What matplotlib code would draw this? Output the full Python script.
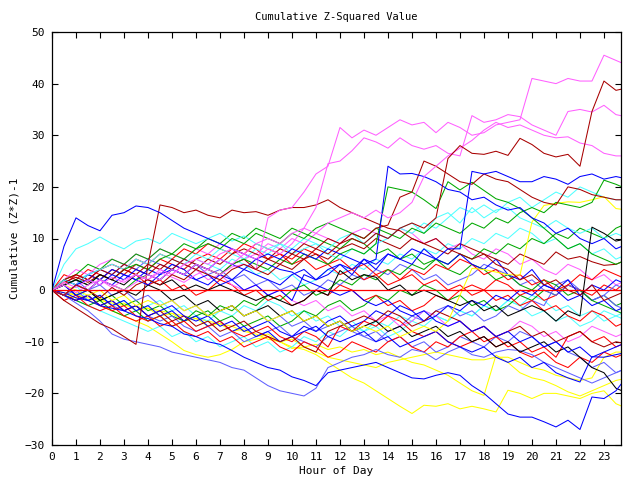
import numpy as np
import matplotlib
matplotlib.use("Agg")
import matplotlib.pyplot as plt

# half-hour samples, 0 .. 24 h
hours = np.arange(49) * 0.5

# magenta
ma = [0, 1.5, 0.5, 2, 1, 2.5, 1.5, 3, 2,
      3.5, 2.5, 1.5, 3, 4, 3, 4.5, 5, 4,
      14, 15.5, 16, 19, 22.5, 24, 31.5, 29.5, 31,
      30, 31.5, 33, 32, 32.5, 30.5, 32.5, 31.5, 30,
      30.5, 32, 32.5, 33, 41, 40.5, 40, 41, 40.5, 40.5, 45.5, 44.5, 43.5]
mb = [0, -1, 1, 0, 2, 1, 0, 1.5, 3,
      2, 4, 3, 5, 4, 6, 5, 7, 6,
      8, 7, 9, 12, 16, 24.5, 25, 27, 29.5,
      28.7, 27.5, 29.5, 28, 27.3, 28, 26.5, 26, 33.8,
      32.5, 33, 34, 33.6, 32, 31, 30, 34.6, 35, 34.5, 35.8, 34, 33.5]
mc = [0, 1, -0.5, 1, 2, 0.5, 2, 3, 2,
      4, 3, 5, 6, 5, 7, 8, 7, 9,
      10, 9, 11, 12, 11, 13, 14, 15, 14,
      15.5, 14, 15, 17, 22, 24, 26, 27.5, 29,
      31, 32.5, 31.5, 32, 31, 30, 29.5, 29.7, 28.5, 28, 26.5, 26, 26]
md = [0, 2, 4, 3, 5, 6, 5, 7, 6,
      8, 7, 6, 8, 7, 9, 8, 6, 7,
      9, 8, 10, 9, 11, 10, 9, 11, 12,
      11, 10, 12, 11, 9, 10, 8, 9, 7,
      6, 8, 7, 5, 6, 4, 3, 5, 4, 2, 3, 1, 2]
me = [0, 1, 3, 2, 4, 5, 4, 6, 5,
      4, 3, 5, 4, 2, 3, 1, 0, 1,
      -1, 0, -2, -3, -2, -4, -3, -5, -4,
      -6, -5, -7, -6, -4, -5, -7, -6, -8,
      -7, -9, -8, -6, -7, -9, -8, -10, -9, -7, -8, -9, -8]

# dark red
dra = [0, -1, 1, 0, -1.5, 0.5, -1, 1, 2,
       1, 3, 2, 4, 3, 2, 4, 5, 4,
       6, 5, 7, 6, 8, 7, 9, 10, 9,
       11, 10, 12, 13, 12, 14, 25.5, 28, 26.5,
       26.3, 26.9, 26.1, 29.4, 28.2, 26.5, 25.8, 26.3, 24, 34.6, 40.5, 38.7, 39.2]
drb = [0, 1.5, 2.5, 1.5, 3, 2, 4, 3, 5,
       4, 6, 5, 4, 6, 5, 7, 8, 7,
       6, 8, 7, 9, 8, 10, 9, 11, 10,
       12, 12.6, 18, 19, 25, 24, 22.5, 21, 20.5,
       22.5, 21.5, 21, 19.5, 18, 17, 16.5, 20, 19.5, 18.5, 18, 17.5, 17.5]
drc = [0, 2, 3, 2, 4, 3, 5, 4, 3,
       5, 4, 6, 5, 4, 3, 5, 6, 4,
       3, 5, 4, 6, 7, 6, 8, 9, 8,
       10, 9, 8, 10, 9, 8, 7, 9, 8,
       7, 6, 5, 7, 6, 5, 7.4, 6, 6.5, 5.5, 4.8, 5, 6]
drd = [0, -2, -3.5, -5, -6.5, -7.5, -9, -10.5, 5,
       16.5, 16, 15, 15.5, 14.5, 14, 15.5, 15, 15.2,
       14.5, 15.5, 16, 16, 16.5, 17.5, 16, 15, 14,
       13, 12, 11.5, 10, 9, 10, 8, 7, 6,
       7, 5, 4, 2, 3, 1, 2, 0, -1, 1, -2, -1, 0]
dre = [0, -1, -2, -1, -3, -2, -4, -3, -5,
       -4, -6, -5, -7, -6, -8, -7, -6, -8,
       -9, -10, -9, -11, -12, -8, -7, -6, -5,
       -6, -4, -5, -7, -6, -4, -5, -6, -8,
       -7, -9, -8, -7, -9, -8, -10, -9, -8, -10, -11, -10, -10.5]

# blue
bh = [0, 8.5, 14, 12.5, 11.5, 14.5, 15, 16.3, 16,
      15, 13.5, 12, 11, 10, 9, 8, 7, 6,
      5, 4, 3.5, 2, 1, 0, -1, 0, -2,
      -3, -2, -4, -5, -4, -6, -7, -6, -8,
      -7, -9, -8, -10, -9, -11, -10, -12, -11, -13, -12, -11, -10]
bt1 = [0, 1, -1, 0, 2, 1, 3, 2, 1,
       3, 4, 3, 5, 4, 6, 5, 4, 6,
       7, 6, 8, 7, 6, 8, 7, 6, 5,
       6, 24, 22.5, 22.6, 22, 21, 19.5, 19, 17.5,
       18, 16.5, 15.5, 16, 14, 13, 11, 12, 10, 9, 10, 8, 9]
bt2 = [0, -1, 1, 2, 1, 3, 2, 4, 3,
       2, 4, 3, 2, 1, 3, 2, 4, 3,
       2, 1, 3, 4, 2, 3, 5, 4, 6,
       5, 7, 6, 8, 7, 6, 8, 8, 23,
       22.5, 23, 22, 21, 21, 22, 21.5, 20.5, 22, 22.5, 21.5, 22, 21.5]
bb = [0, -0.5, -1.5, -2, -3, -3.5, -4, -5, -5.5,
      -6.5, -7, -8.5, -9, -10, -10.5, -11.7, -13, -14,
      -15, -15.5, -16.8, -17.5, -18.5, -16, -15.5, -15, -14.5,
      -14, -15, -16, -17, -17.2, -16.5, -16, -16.5, -18.5,
      -20, -22, -24, -24.6, -24.6, -25.5, -26.5, -25.2, -27, -20.7, -21, -19.5, -16.5]
bm1 = [0, 2, 1, 3, 2, 4, 3, 2, 4,
       3, 5, 4, 2, 3, 1, 2, 0, 1,
       -1, 0, -2, 3, 2, 4, 5, 3, 6,
       4, 7, 6, 5, 8, 6, 5, 7, 5,
       4, 6, 3, 2, 4, 1, 0, 2, -1, -3, -2, -4, -3]
bm2 = [0, -1, -2, -1, -3, -2, -4, -3, -5,
       -4, -3, -5, -6, -5, -7, -6, -8, -7,
       -6, -8, -9, -8, -7, -9, -10, -9, -8,
       -10, -9, -11, -10, -9, -8, -10, -11, -12,
       -11, -13, -14, -13, -15, -14, -16, -17, -17.8, -12.9, -13, -12.5, -12]
bn = [0, 1, -1, -2, -1, -3, -2, -4, -3,
      -5, -4, -6, -5, -7, -6, -8, -7, -9,
      -8, -10, -9, -7, -8, -6, -5, -7, -6,
      -4, -5, -3, -4, -6, -5, -3, -4, -2,
      -3, -1, -2, 0, -1, 1, 0, -2, -1, 1, 0, 2, 1]

# light blue
lb1 = [0, -1, -2.5, -4, -6, -8.5, -9.5, -10, -10.5,
       -11, -12, -12.5, -13, -13.5, -14, -15, -15.5, -17,
       -18.5, -19.5, -20, -20.5, -19, -15, -14, -13, -12.5,
       -11.5, -12.5, -13, -11.5, -12, -13.5, -12, -11, -12.5,
       -13, -12, -11.5, -11.7, -12.5, -14, -15, -16, -17, -18, -17, -16, -15]
lb2 = [0, 1, 2, 0, 1, -1, 0, -2, -1,
       -3, -2, -4, -3, -5, -4, -3, -5, -4,
       -6, -5, -7, -6, -8, -7, -6, -8, -9,
       -8, -10, -9, -11, -10, -12, -11, -9, -10,
       -11, -9, -10, -8, -9, -11, -10, -12, -13, -15, -14, -16, -15]
lb3 = [0, 2, 1, 3, 4, 3, 5, 4, 6,
       5, 4, 6, 5, 3, 4, 2, 3, 1,
       2, 0, 1, -1, 0, 2, 1, 3, 2,
       4, 3, 5, 4, 2, 3, 1, 2, 3,
       5, 4, 3, 1, 2, 0, -1, 1, 0, -2, -1, 1, 0]
lb4 = [0, -1, 0, -2, -1, -3, -4, -3, -5,
       -6, -5, -7, -8, -7, -9, -8, -10, -9,
       -8, -7, -9, -10, -11, -9, -8, -7, -9,
       -10, -8, -7, -5, -6, -4, -3, -5, -4,
       -6, -5, -3, -4, -2, -3, 1, 2, 0, -2, -1, -3, -4]

# green
g1 = [0, 1, 2, 1, 3, 2, 4, 5, 4,
      6, 7, 6, 8, 9, 8, 10, 9, 11,
      10, 9, 11, 10, 12, 13, 12, 11, 10,
      12, 11, 10, 12, 11, 13, 12, 11, 13,
      12, 14, 13, 15, 16, 15, 17, 16.5, 16, 17, 21.3, 20.5, 19.5]
g2 = [0, -1, 1, 0, 2, 1, 0, 2, 3,
      2, 4, 3, 5, 4, 3, 5, 6, 5,
      4, 6, 5, 7, 6, 5, 7, 8, 7,
      9, 20, 19.5, 19, 17.5, 15.8, 21, 19.4, 20.9,
      19.3, 17.7, 17, 15.8, 14, 12, 10, 8, 9, 7, 6, 5, 6]
g3 = [0, 2, 3, 5, 4, 6, 5, 7, 6,
      8, 7, 9, 8, 10, 9, 11, 10, 12,
      11, 10, 12, 11, 10, 9, 8, 10, 9,
      7, 8, 6, 7, 5, 6, 4, 3, 5,
      4, 2, 3, 1, 0, 2, 1, -1, 0, -2, -3, -4, -5]
g4 = [0, -1, -2, -3, -2, -4, -5, -4, -6,
      -5, -7, -6, -4, -5, -3, -4, -2, -3,
      -1, -2, 0, 1, -1, 0, 2, 1, 3,
      2, 4, 3, 5, 4, 6, 5, 7, 6,
      8, 7, 9, 8, 10, 9, 11, 10, 12, 11, 10, 12, 13]
g5 = [0, 1, -1, 0, -2, -1, -3, -2, -4,
      -3, -5, -6, -5, -4, -6, -5, -7, -6,
      -5, -7, -6, -4, -5, -3, -2, -4, -3,
      -1, -2, 0, -1, 1, 0, -2, -1, -3,
      -2, -4, -3, -1, -2, 0, -1, 1, 0, -2, -1, -3, -2]

# cyan
c1 = [0, 5, 8, 9, 10.3, 9, 8, 9.5, 10,
      9, 11, 10, 9, 10, 11, 9.5, 10.5, 9,
      8, 9, 7, 8, 9, 7, 6, 8, 7,
      9, 10, 12, 11, 13, 12, 14, 16, 15,
      16.5, 15, 17, 18, 16, 17.5, 19, 18, 20, 19, 18, 17.5, 17.5]
c2 = [0, 2, 1, 3, 4, 5, 4, 6, 5,
      7, 6, 5, 7, 6, 8, 7, 6, 8,
      7, 9, 8, 10, 9, 8, 10, 11, 9,
      11, 10, 12, 13, 11, 14, 15, 13, 16,
      14, 15.5, 16, 14, 13, 12, 13.5, 12, 11, 12, 10, 11, 10]
c3 = [0, -1, 1, -2, -1, -3, -2, -4, -3,
      -2, -4, -3, -5, -6, -4, -5, -3, -4,
      -2, -3, -5, -4, -6, -5, -7, -6, -8,
      -7, -9, -8, -6, -7, -5, -6, -4, -5,
      -3, -4, -2, -3, -5, -4, -6, -5, -7, -6, -4, -5, -6]
c4 = [0, -1, -2, -3, -4, -5, -6, -7, -8,
      -7, -9, -8, -10, -9, -11, -10, -9, -11,
      -10, -12, -11, -9, -10, -8, -9, -7, -8,
      -6, -7, -5, -6, -4, -5, -6, -4, -5,
      -3, -4, -2, -3, -1, -2, -4, -3, -5, -4, -6, -5, -4]
c5 = [0, 1, 2, 3, 2, 4, 3, 5, 4,
      3, 5, 4, 6, 5, 4, 6, 5, 3,
      4, 2, 3, 1, 2, 4, 3, 5, 4,
      6, 5, 7, 6, 8, 7, 9, 8, 10,
      9, 11, 10, 12, 11, 9, 10, 8, 9, 7, 8, 6, 7]

# red
r1 = [0, 2, 1, 3, 2, 4, 3, 5, 4,
      6, 5, 4, 6, 7, 6, 8, 7, 9,
      8, 7, 6, 8, 7, 5, 6, 4, 5,
      3, 4, 2, 3, 1, 2, 0, 1, -1,
      0, -2, -1, -3, -2, -4, -3, -5, -6, -4, -5, -7, -6]
r2 = [0, -1, -2, -1, -3, -4, -3, -5, -6,
      -5, -7, -6, -8, -7, -6, -8, -9, -8,
      -7, -9, -10, -8, -9, -11, -7, -8, -6,
      -7, -5, -6, -8, -9, -8, -10, -11, -10,
      -9, -11, -10, -12, -13, -12, -14, -15, -13, -14, -12, -13, -12]
r3 = [0, 3, 2, 4, 3, 2, 4, 3, 1,
      2, 0, 1, -1, 0, 2, 1, -1, 0,
      -2, -1, -3, -2, 0, -1, 1, 0, -2,
      -1, -3, -2, -4, -3, -1, -2, 0, 1,
      0, 2, 1, -1, 0, -2, -1, 1, 0, -1, 1, 0, 2]
r4 = [0, 1, 3, 2, 4, 5, 4, 6, 5,
      7, 6, 8, 7, 9, 8, 7, 9, 8,
      6, 7, 5, 6, 4, 5, 3, 4, 2,
      3, 1, 2, 4, 3, 5, 4, 6, 5,
      3, 4, 2, 3, 1, 2, 0, 1, 3, 2, 4, 3, 2]
r5 = [0, -2, -1, -3, -4, -3, -5, -6, -5,
      -7, -6, -8, -9, -8, -10, -9, -11, -10,
      -9, -11, -12, -10, -11, -13, -12, -10, -11,
      -12, -10, -9, -11, -12, -10, -11, -9, -8,
      -10, -9, -11, -10, -12, -11, -13, -9, -8, -10, -9, -11, -10]

# yellow
y1 = [0, -0.5, -1, -1.5, -2, -2.5, -3, -3.2, -3.5,
      -4, -4.5, -5, -5.5, -6, -6.5, -7, -8, -8.5,
      -9.5, -10, -11, -11.5, -12.5, -14, -15.5, -17, -18,
      -19.5, -21, -22.5, -23.9, -22.3, -22.5, -22, -23, -22.5,
      -23, -23.6, -19.4, -20, -21, -20, -20, -20.5, -21, -20, -19.5, -22, -23]
y2 = [0, -1, -0.5, -2, -1.5, -3, -2.5, -4, -3.5,
      -5, -4.5, -6, -5.5, -7, -6.5, -8, -7.5, -9,
      -8.5, -10, -9.5, -11, -10.5, -11.5, -11, -12, -11.5,
      -12.5, -12, -13, -14, -14.5, -15.5, -16.5, -18, -19.5,
      -20.4, -12.6, -14, -16, -17, -17.5, -18.5, -19.7, -20.5, -19.5, -18.5, -17.5, -17]
y3 = [0, -1, -1.5, -2, -3, -4, -5, -6, -7,
      -8.5, -10, -11.7, -12.5, -13, -12.5, -11.5, -10, -9.5,
      -9, -10, -11.3, -11, -12, -13, -13.5, -14, -14.5,
      -15, -14, -13.5, -13, -12.5, -12, -12.5, -13, -13.5,
      -13.5, -13, -13, -14, -15, -15.5, -16.5, -17, -17.5, -17, -13, -12, -12]
y4 = [0, 1, 0, -1, 0, -2, -1, -3, -2,
      -3, -2, -4, -3, -5, -4, -3, -5, -4,
      -6, -5, -4, -6, -5, -7, -6, -8, -7,
      -8, -7, -9, -8, -7, -8, -6, -1, 4.2,
      4, 3.5, 3, 2.9, 13.2, 16.4, 16.8, 17.1, 17, 17.5, 18.1, 15.8, 15.5]

# black
k1 = [0, 1, 2, 1, 3, 2, 1, 3, 2,
      1, 2, 0, 1, 0, 1, 0, -1, -2,
      -1, -2, -3, -2, 0, -1, 3.8, 2, 3,
      2.5, 0, 1, -1, 0, -1, -2, -3, -2,
      -4, -3, -5, -4, -3, -4, -6, -4, -5, 12.2, 11, 9.5, 10]
k2 = [0, -1, 1, 0, -2, -1, 0, -1, 1,
      0, -2, -1, -3, -2, -4, -3, -5, -4,
      -3, -5, -4, -6, -5, -7, -6, -8, -7,
      -6, -8, -7, -9, -8, -7, -9, -8, -10,
      -9, -11, -10, -12, -11, -10, -12, -11, -13, -15, -16, -19, -20]

DRED, RED, GREEN, BLUE = "#a80000", "#ff0000", "#00a800", "#0000ff"
LBLUE, MAG, CYAN, YEL, BLK = "#6060ff", "#ff60ff", "#50ffff", "#ffff00", "#000000"

series = [
    (y1, YEL), (y2, YEL), (y3, YEL), (c3, CYAN), (c4, CYAN), (c5, CYAN),
    (g5, GREEN), (lb2, LBLUE), (lb4, LBLUE), (r3, RED), (r1, RED), (me, MAG),
    (md, MAG), (lb3, LBLUE), (g3, GREEN), (g4, GREEN), (r4, RED), (bm1, BLUE),
    (bn, BLUE), (r2, RED), (r5, RED), (dre, DRED), (drc, DRED), (c2, CYAN),
    (c1, CYAN), (lb1, LBLUE), (bm2, BLUE), (k2, BLK), (y4, YEL), (g1, GREEN),
    (g2, GREEN), (drd, DRED), (drb, DRED), (bh, BLUE), (bt1, BLUE), (bt2, BLUE),
    (bb, BLUE), (k1, BLK), (mc, MAG), (mb, MAG), (ma, MAG), (dra, DRED),
]

plt.rcParams["font.family"] = "DejaVu Sans Mono"
fig = plt.figure(figsize=(6.4, 4.8), dpi=100)
ax = fig.add_axes([52 / 640, 35 / 480, 569 / 640, 413 / 480])

for vals, col in series:
    ax.plot(hours, vals, color=col, lw=0.75)
ax.axhline(0, color=RED, lw=0.9)

ax.set_xlim(0, 23.71)
ax.set_ylim(-30, 50)
ax.set_xticks(range(24))
ax.set_yticks(range(-30, 51, 10))
ax.tick_params(direction="in", length=4, width=0.8, labelsize=8,
               top=True, right=True, pad=5)
for s in ax.spines.values():
    s.set_linewidth(0.9)

ax.set_title("Cumulative Z-Squared Value", fontsize=7.5, pad=9)
ax.set_xlabel("Hour of Day", fontsize=8, labelpad=3)
ax.set_ylabel("Cumulative (Z*Z)-1", fontsize=8, labelpad=4)

fig.savefig("out.png")
